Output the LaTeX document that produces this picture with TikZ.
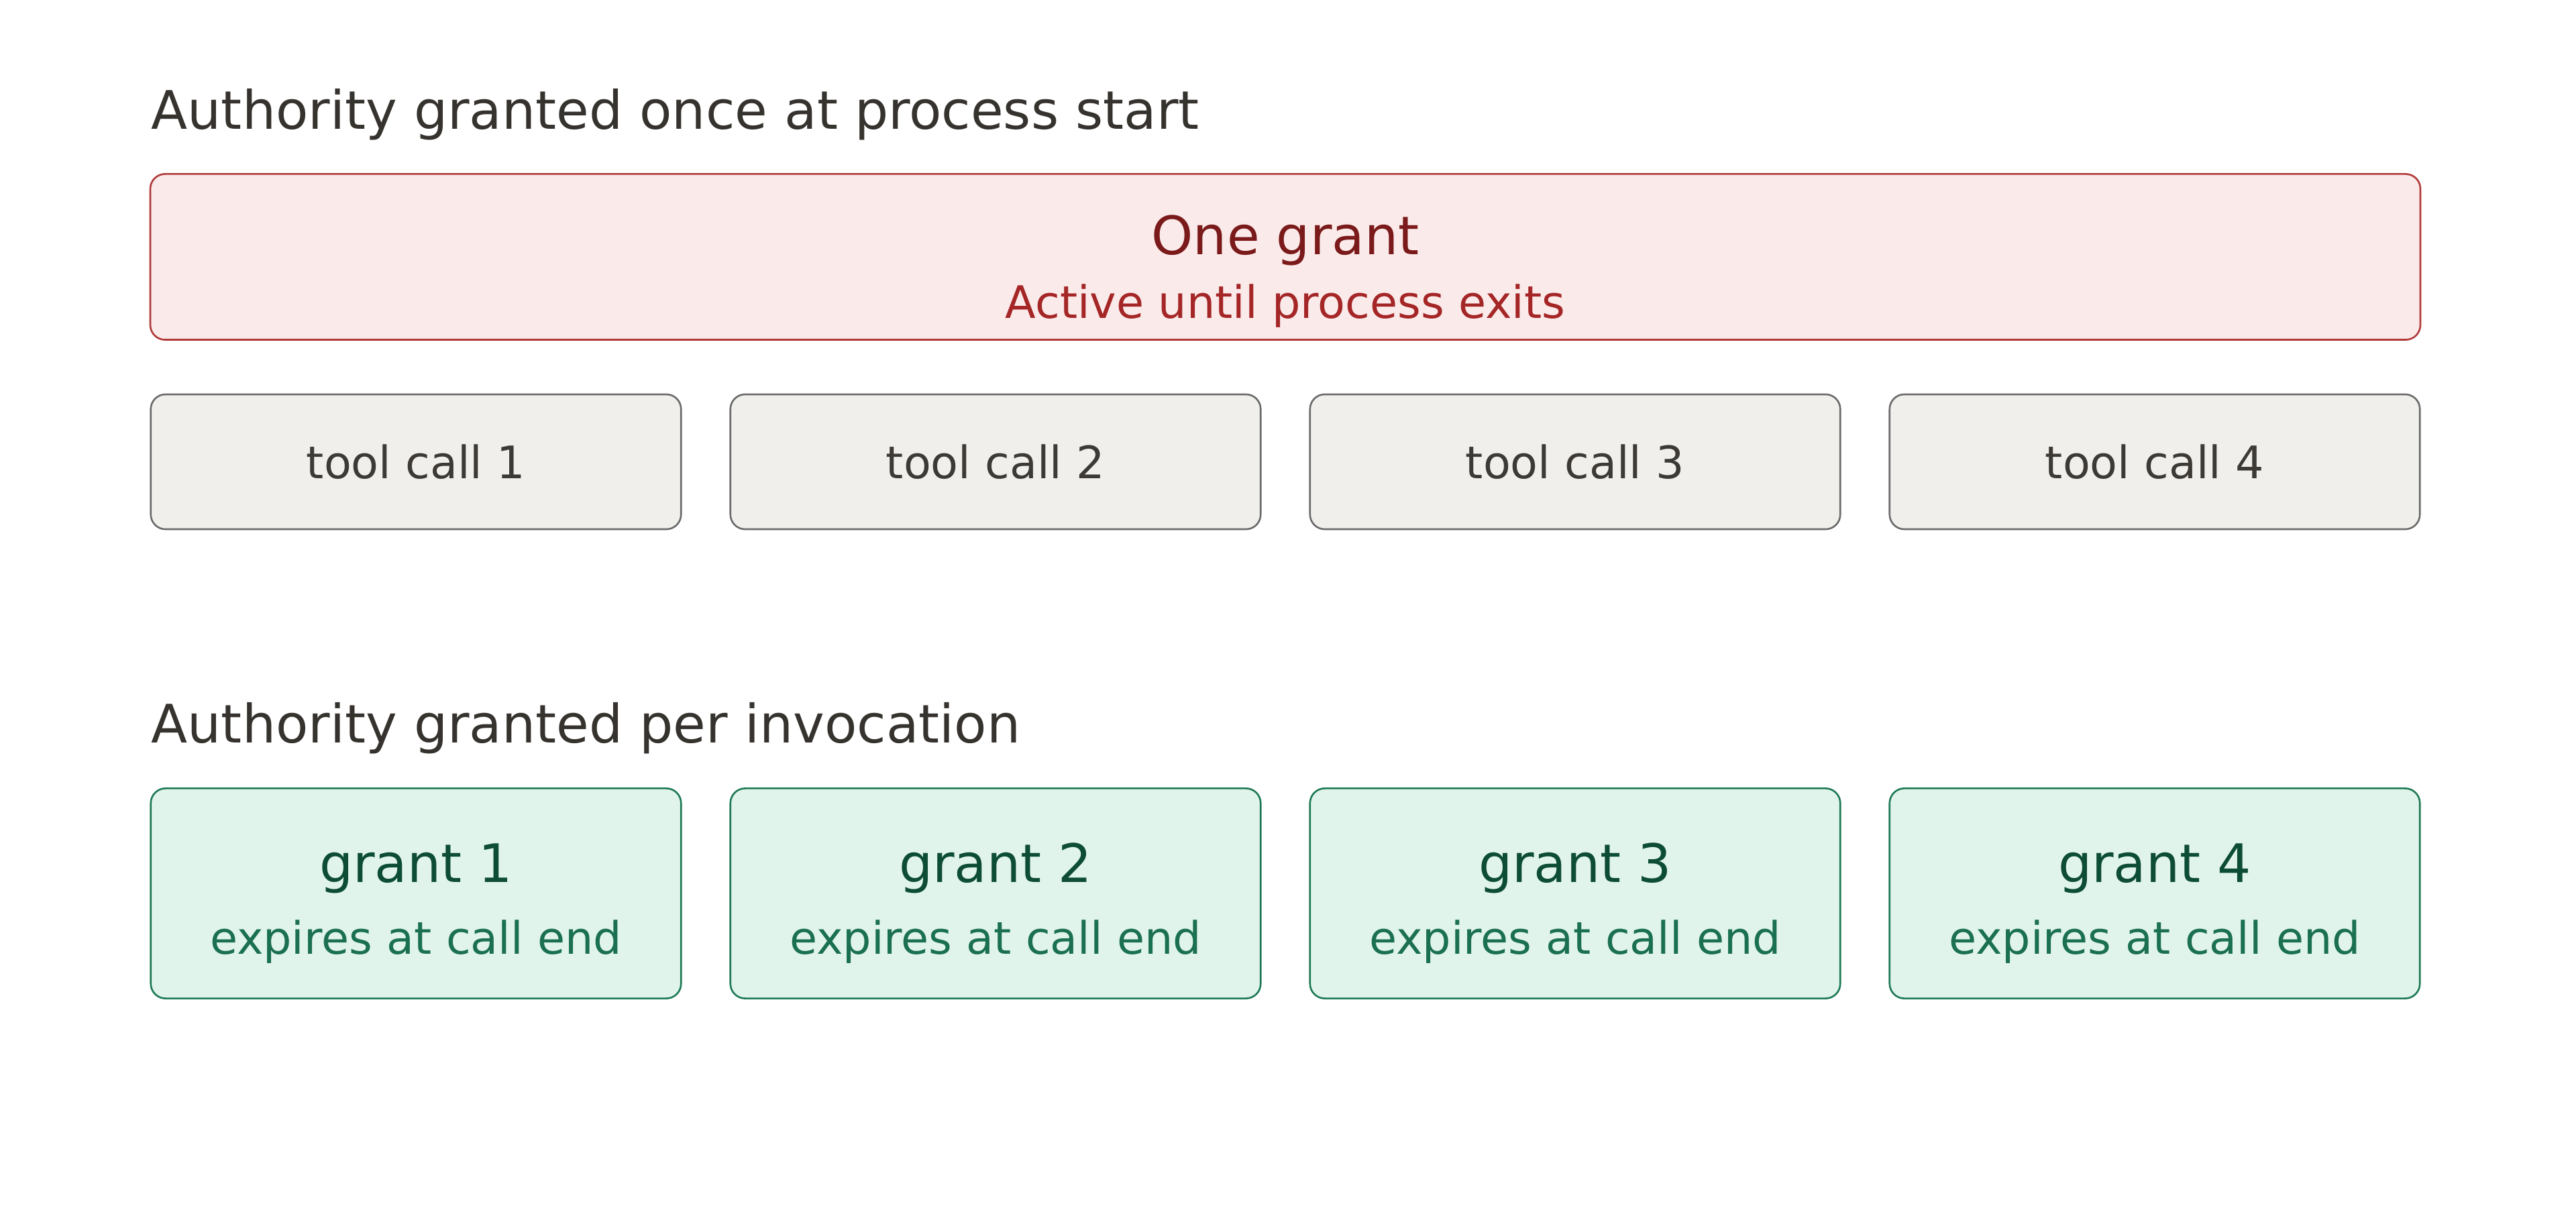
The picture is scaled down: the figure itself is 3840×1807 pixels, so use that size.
\documentclass[tikz,border=0pt]{standalone}
\usepackage{fontspec}
\setmainfont{DejaVu Sans}
\usetikzlibrary{positioning}

\definecolor{headtext}{HTML}{36332F}
\definecolor{oncefill}{HTML}{FBEAEA}
\definecolor{onceline}{HTML}{B03A3A}
\definecolor{oncehead}{HTML}{7A1A1A}
\definecolor{oncesub}{HTML}{A52626}
\definecolor{callfill}{HTML}{F0EFEB}
\definecolor{callline}{HTML}{6B6B6B}
\definecolor{calltext}{HTML}{3D3A36}
\definecolor{grantfill}{HTML}{E1F4EC}
\definecolor{grantline}{HTML}{1E7A55}
\definecolor{granthead}{HTML}{0E4D35}
\definecolor{grantsub}{HTML}{1A7050}

\tikzset{
  heading/.style={anchor=base west, inner sep=0pt, text=headtext, font=\fontsize{22.5}{27}\selectfont},
  oncebox/.style={draw=onceline, fill=oncefill, line width=0.75pt, rounded corners=0.22cm,
    minimum width=33.82cm, minimum height=2.47cm, inner sep=0pt},
  callbox/.style={draw=callline, fill=callfill, line width=0.75pt, rounded corners=0.22cm,
    minimum width=7.9cm, minimum height=2.01cm, inner sep=0pt},
  grantbox/.style={draw=grantline, fill=grantfill, line width=0.75pt, rounded corners=0.22cm,
    minimum width=7.9cm, minimum height=3.13cm, inner sep=0pt},
  bigtext/.style={anchor=base, inner sep=0pt, font=\fontsize{22.5}{27}\selectfont},
  smalltext/.style={anchor=base, inner sep=0pt, font=\fontsize{19}{23}\selectfont}
}

\begin{document}
\begin{tikzpicture}[x=0.01cm, y=-0.01cm]
  \useasboundingbox (0,0) rectangle (3840,1807);

  % process-wide authority
  \node[heading] (oncehead) at (225,193) {Authority granted once at process start};
  \node[oncebox] (once) at (1916,383) {};
  \node[bigtext, text=oncehead] (oncetitle) at (1916,380) {One grant};
  \node[smalltext, text=oncesub] (oncenote) at (1916,475) {Active until process exits};

  \foreach \i/\x in {1/620, 2/1484, 3/2348, 4/3212} {
    \node[callbox] (call\i) at (\x,688.5) {};
    \node[smalltext, text=calltext] (calltext\i) at (\x,714) {tool call \i};
  }

  % per-invocation authority
  \node[heading] (granthead) at (225,1107) {Authority granted per invocation};

  \foreach \i/\x in {1/620, 2/1484, 3/2348, 4/3212} {
    \node[grantbox] (grant\i) at (\x,1332) {};
    \node[bigtext, text=granthead] (granttitle\i) at (\x,1315) {grant \i};
    \node[smalltext, text=grantsub] (grantnote\i) at (\x,1422) {expires at call end};
  }
\end{tikzpicture}
\end{document}
